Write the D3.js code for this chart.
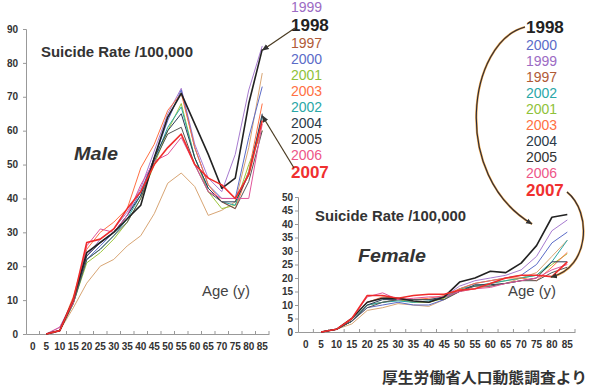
<!DOCTYPE html>
<html>
<head>
<meta charset="utf-8">
<script src="https://cdn.jsdelivr.net/npm/d3@7/dist/d3.min.js"></script>
<style>
  body { margin: 0; background: #fff; }
  svg { display: block; font-family: "Liberation Sans", Arial, sans-serif; }
</style>
</head>
<body>
<svg id="chart" width="593" height="386"></svg>
<script>
// age groups (x categories)
const ages = ["0","5","10","15","20","25","30","35","40","45","50","55","60","65","70","75","80","85"];
const years = ["1997","1998","1999","2000","2001","2002","2003","2004","2005","2006","2007"];
const lineColors = ["#d8a574","#222222","#a77bd0","#5b6bc8","#9cc63c","#2aa7a7","#ff7043","#2b3a55","#555555","#e0559a","#f02c2c"];
const textColors = ["#b05a36","#222222","#9c6bc4","#5b6bc8","#8fc23a","#2aa7a7","#ff7043","#2b3a4a","#333333","#ee5588","#f03030"];

// male rate per 100,000 (by year, ages 0..85)
const male1997 = [null,0,1,7.7,15,20,22,26,29,35.5,44.5,47.5,43.5,35,36.5,39,55,77];
const male1998 = [null,0,1,10,24,27,30,34,38,52,64,71,62,53,43,46,68,84];
const male1999 = [null,0,2,10,23,28,31,36,43,54,65,72.5,56,46,42,53,72,85];
const male2000 = [null,0,1,10,22,26,30,35,42,52,63,72,55,44,40,40,58,73];
const male2001 = [null,0,1,9,21,24,28,33,40,50,60,68,52,42,37,38,50,60];
const male2002 = [null,0,1,9,22,25,29,34,41,51,61,67,52,43,39,38,48,64];
const male2003 = [null,0,1,11,25,30,33,37,49,56,66,71,55,44,39,37,48,68];
const male2004 = [null,0,1,10,23,27,30,35,41,52,60,65,52,43,39,39,47,65];
const male2005 = [null,0,1,9,22,25,29,33,40,51,59,61,50,42,39,37,45,60];
const male2006 = [null,0,2,9,26,31,30,35,44,51,53,58,50,42,40,40,40,62];
const male2007 = [null,0,1,10,27,28,31,37,42,50,55,59,50,46,44,40,47,63];
const maleSeries = [male1997,male1998,male1999,male2000,male2001,male2002,male2003,male2004,male2005,male2006,male2007];

// female rate per 100,000
const female1997 = [null,0,1,3,8,9,10.5,10,9.5,12,15,16,17,18,20,22,28,34];
const female1998 = [null,0,1,5,11,12.5,12.5,11.5,11,13,18.5,20,22.5,22,25.5,32,42.5,43.5];
const female1999 = [null,0,1,4,10,11,12,11,11,13,17,19,20,21,23,28,37.5,41.5];
const female2000 = [null,0,1,4,9,10,11,10,10,12,16,18,19,20,21,25,33,37];
const female2001 = [null,0,1,4,10,11,12,11,11,12.5,16,17,18,19,20,21,25,29];
const female2002 = [null,0,1,4,10,11,11.5,11,11.5,13,16,17,18,19,20,21,26,34];
const female2003 = [null,0,1,5,11,13,12.5,12,12.5,13.5,16,18,19,20,20,19,24,29.5];
const female2004 = [null,0,1,4,10,12,12,12,12,13,15,17.5,17.5,18,19,20,26,26];
const female2005 = [null,0,1,4,9,11,12,12,12,12,15,17,17,18,19,19,22,24];
const female2006 = [null,0,1,5,13,14.5,12,12.5,13,13,15,16,16.5,18,19,20,23,25];
const female2007 = [null,0,1,5,13.5,13.5,12.5,13.5,14,14,15.5,16,18,20,21,21,20.5,26];
const femaleSeries = [female1997,female1998,female1999,female2000,female2001,female2002,female2003,female2004,female2005,female2006,female2007];

const maleTicks = [0,10,20,30,40,50,60,70,80,90];
const femaleTicks = [0,5,10,15,20,25,30,35,40,45,50];

// legend orders (as printed)
const maleLegend = ["1999","1998","1997","2000","2001","2003","2002","2004","2005","2006","2007"];
const femaleLegend = ["1998","2000","1999","1997","2002","2001","2003","2004","2005","2006","2007"];

const svg = d3.select("#chart");

svg.append("defs").append("marker")
    .attr("id", "arr")
    .attr("viewBox", "0 0 10 10")
    .attr("refX", 9).attr("refY", 5)
    .attr("markerWidth", 6).attr("markerHeight", 6)
    .attr("orient", "auto-start-reverse")
  .append("path")
    .attr("d", "M0,1L10,5L0,9z")
    .attr("fill", "#333");

function drawPanel(cfg) {
    const g = svg.append("g");
    const x = d3.scaleBand().domain(ages).range([cfg.x0, cfg.x1]);
    const y = d3.scaleLinear().domain([0, cfg.max]).range([cfg.y0, cfg.y1]);
    const bw = x.bandwidth();

    // y axis
    const ya = g.append("g")
        .attr("transform", `translate(${cfg.x0},0)`)
        .call(d3.axisLeft(y).tickValues(cfg.ticks).tickSize(3).tickPadding(cfg.pad));
    // x axis
    const xa = g.append("g")
        .attr("transform", `translate(0,${cfg.y0})`)
        .call(d3.axisBottom(x).tickSize(0).tickPadding(9));
    [ya, xa].forEach(a => {
        a.select(".domain").attr("stroke", "#999");
        a.selectAll(".tick line").attr("stroke", "#999");
        a.selectAll("text").attr("fill", "#333").attr("font-weight", "bold").attr("font-size", 10);
    });
    // boundary ticks on the x axis
    xa.selectAll(".bt").data(ages.slice(1).concat(["end"]))
      .enter().append("line")
        .attr("x1", (d, i) => cfg.x0 + (i + 1) * x.step())
        .attr("x2", (d, i) => cfg.x0 + (i + 1) * x.step())
        .attr("y1", 0).attr("y2", -3)
        .attr("stroke", "#999");

    const line = d3.line()
        .defined(d => d != null)
        .x((d, i) => x(ages[i]) + bw / 2)
        .y(d => y(d));

    const order = d3.range(years.length).filter(i => years[i] !== "1998" && years[i] !== "2007")
        .concat([years.indexOf("1998"), years.indexOf("2007")]);
    g.selectAll(".series").data(order)
      .enter().append("path")
        .attr("fill", "none")
        .attr("stroke", i => lineColors[i])
        .attr("stroke-width", i => (years[i] === "1998" || years[i] === "2007") ? 1.6 : 1)
        .attr("stroke-linejoin", "round")
        .attr("d", i => line(cfg.series[i]));

    // legend
    g.selectAll(".leg").data(cfg.legend)
      .enter().append("text")
        .attr("x", cfg.lx)
        .attr("y", (d, i) => cfg.ly[i])
        .attr("dy", "0.36em")
        .attr("fill", d => textColors[years.indexOf(d)])
        .attr("font-size", d => (d === "1998" || d === "2007") ? 17 : 14)
        .attr("font-weight", d => (d === "1998" || d === "2007") ? "bold" : "normal")
        .text(d => d);

    return { x, y, bw };
}

const male = drawPanel({
    x0: 26, x1: 269, y0: 334, y1: 29, max: 90, ticks: maleTicks, pad: 5,
    series: maleSeries, legend: maleLegend, lx: 291,
    ly: [7, 25, 43, 59, 75, 91, 107, 123, 139, 155, 172]
});

const female = drawPanel({
    x0: 298, x1: 575, y0: 332, y1: 197, max: 50, ticks: femaleTicks, pad: 2,
    series: femaleSeries, legend: femaleLegend, lx: 526,
    ly: [27, 45, 61, 77, 93, 109, 125, 141, 157, 173, 190]
});

// titles and labels
function label(x, y, txt, size, weight, style, color, len) {
    const t = svg.append("text").attr("x", x).attr("y", y)
        .attr("font-size", size).attr("font-weight", weight)
        .attr("font-style", style).attr("fill", color).text(txt);
    if (len) t.attr("textLength", len).attr("lengthAdjust", "spacingAndGlyphs");
    return t;
}
label(41, 57, "Suicide Rate /100,000", 14, "bold", "normal", "#333", 152);
label(74, 160, "Male", 18, "bold", "italic", "#333", 44);
label(202, 296, "Age (y)", 14, "normal", "normal", "#444", 48);
label(315, 221, "Suicide Rate /100,000", 14, "bold", "normal", "#333", 151);
label(358, 262, "Female", 18, "bold", "italic", "#333", 68);
label(508, 296, "Age (y)", 14, "normal", "normal", "#444", 48);
label(382, 383, "厚生労働省人口動態調査より", 15, "bold", "normal", "#333", 205)
    .attr("font-family", "'Noto Sans CJK JP', sans-serif");

// arrows: left panel (straight)
const mEnd = ages.length - 1;
const mx = male.x(ages[mEnd]) + male.bw / 2;
[[295, 28, mx, male.y(male1998[mEnd]) + 1], [294, 168, mx, male.y(male2004[mEnd]) + 2]].forEach(a => {
    svg.append("line")
        .attr("x1", a[0]).attr("y1", a[1]).attr("x2", a[2]).attr("y2", a[3])
        .attr("stroke", "#4a3b22").attr("stroke-width", 1.2)
        .attr("marker-end", "url(#arr)");
});

// arrows: right panel (curved)
const curves = [
    "M525,27 C468,42 450,175 532,224",
    "M567,192 C592,212 590,268 551,277"
];
curves.forEach(c => {
    svg.append("path").attr("d", c).attr("fill", "none")
        .attr("stroke", "#e8a040").attr("stroke-width", 2.2);
    svg.append("path").attr("d", c).attr("fill", "none")
        .attr("stroke", "#2a2a3a").attr("stroke-width", 1.1)
        .attr("marker-end", "url(#arr)");
});
</script>
</body>
</html>
